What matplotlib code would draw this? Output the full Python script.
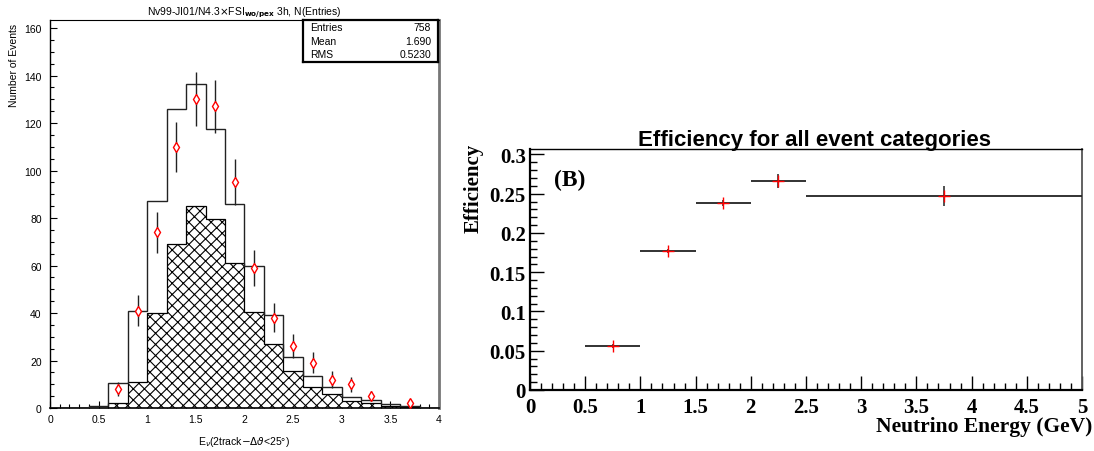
import numpy as np
import matplotlib
matplotlib.use("Agg")
import matplotlib.pyplot as plt
from matplotlib.ticker import MultipleLocator, FixedLocator

# ---------------- data: left panel ----------------
bin_edges = [0.0, 0.2, 0.4, 0.6, 0.8, 1.0, 1.2, 1.4, 1.6, 1.8, 2.0,
             2.2, 2.4, 2.6, 2.8, 3.0, 3.2, 3.4, 3.6, 3.8, 4.0]
mc_total = [0, 0, 0.7, 10.5, 41, 87, 126, 136.5, 117.5, 86, 60,
            39, 21.5, 13.5, 9, 4.8, 3.3, 1.8, 0.8, 0]
mc_hatched = [0, 0, 0, 2, 11, 40, 69, 85, 79.5, 61, 40.5,
              27, 15.5, 9, 6, 2.8, 2, 1, 0.5, 0]
data_x = [0.7, 0.9, 1.1, 1.3, 1.5, 1.7, 1.9, 2.1, 2.3, 2.5, 2.7, 2.9, 3.1, 3.3, 3.7]
data_y = [8, 41, 74, 110, 130, 127, 95, 59, 38, 26, 19, 12, 10, 5, 2]
data_err = [2.8, 6.4, 8.6, 10.5, 11.4, 11.3, 9.7, 7.7, 6.2, 5.1, 4.4, 3.5, 3.2, 2.2, 1.4]
left_xticks = [0, 0.5, 1, 1.5, 2, 2.5, 3, 3.5, 4]
left_xticklabels = ["0", "0.5", "1", "1.5", "2", "2.5", "3", "3.5", "4"]
left_yticks = [0, 20, 40, 60, 80, 100, 120, 140, 160]
stats_labels = ["Entries", "Mean", "RMS"]
stats_values = ["758", "1.690", "0.5230"]
left_title = r"Nv99-JI01/N4.3$\times$FSI$_{\mathbf{wo/pex}}$ 3h, N(Entries)"
left_xlabel = r"E$_{\nu}$(2track$-\Delta\vartheta$<25°)"
left_ylabel = "Number of Events"

# ---------------- data: right panel ----------------
eff_lo = [0.5, 1.0, 1.5, 2.0, 2.5]
eff_hi = [1.0, 1.5, 2.0, 2.5, 5.0]
eff_x = [0.75, 1.25, 1.75, 2.25, 3.75]
eff_y = [0.056, 0.177, 0.238, 0.266, 0.247]
eff_err = [0.003, 0.003, 0.004, 0.009, 0.013]
right_xticks = [0, 0.5, 1, 1.5, 2, 2.5, 3, 3.5, 4, 4.5, 5]
right_xticklabels = ["0", "0.5", "1", "1.5", "2", "2.5", "3", "3.5", "4", "4.5", "5"]
right_yticks = [0, 0.05, 0.1, 0.15, 0.2, 0.25, 0.3]
right_yticklabels = ["0", "0.05", "0.1", "0.15", "0.2", "0.25", "0.3"]
right_title = "Efficiency for all event categories"
right_xlabel = "Neutrino Energy (GeV)"
right_ylabel = "Efficiency"
panel_tag = "(B)"

W, H = 1094, 452
fig = plt.figure(figsize=(W / 100, H / 100), dpi=100)
plt.rcParams['hatch.linewidth'] = 0.8


def rect(l, t, r, b):
    return [l / W, 1 - b / H, (r - l) / W, (b - t) / H]


# ================= left panel =================
sans = ['Liberation Sans', 'DejaVu Sans']
axL = fig.add_axes(rect(50, 21, 439, 409))
axL.stairs(mc_hatched, bin_edges, fill=True, hatch='xxx', facecolor='white',
           edgecolor='black', linewidth=0, zorder=2)
axL.stairs(mc_hatched, bin_edges, color='black', linewidth=0.9, zorder=3)
axL.stairs(mc_total, bin_edges, color='#222222', linewidth=1.0, zorder=3)
axL.errorbar(data_x, data_y, yerr=data_err, fmt='none', ecolor='#222222',
             elinewidth=1.0, capsize=0, zorder=4)
axL.plot(data_x, data_y, linestyle='none', marker='d', markersize=5.5,
         markerfacecolor='white', markeredgecolor='red', markeredgewidth=1.0, zorder=5)
axL.set_xlim(0, 4)
axL.set_ylim(0, 163.4)
axL.set_xticks(left_xticks)
axL.set_xticklabels(left_xticklabels)
axL.set_yticks(left_yticks)
axL.xaxis.set_minor_locator(MultipleLocator(0.1))
axL.yaxis.set_minor_locator(MultipleLocator(5))
axL.tick_params(which='both', direction='in', top=False, right=False,
                labelsize=7.5, width=0.8, color='black')
axL.tick_params(which='major', length=5)
axL.tick_params(which='minor', length=3)
axL.tick_params(axis='y', pad=6)
axL.tick_params(axis='x', pad=4)
for lab in axL.get_xticklabels() + axL.get_yticklabels():
    lab.set_family(sans)
axL.spines['left'].set_linewidth(1.0)
axL.spines['bottom'].set_linewidth(1.2)
axL.spines['top'].set_linewidth(0.8)
axL.spines['right'].set_linewidth(2.0)
axL.spines['right'].set_color('#777777')

fig.text(244 / W, 1 - 13 / H, left_title, ha='center', va='center',
         fontsize=7.5, family=sans)
fig.text(244 / W, 1 - 442 / H, left_xlabel, ha='center', va='center',
         fontsize=7.5, family=sans)
fig.text(14 / W, 1 - 65 / H, left_ylabel, ha='center', va='center',
         rotation=90, fontsize=7.5, family=sans)

# stats box
axS = fig.add_axes(rect(303, 21, 438, 63), zorder=10)
axS.set_xticks([])
axS.set_yticks([])
axS.set_xlim(0, 1)
axS.set_ylim(0, 1)
for sp in axS.spines.values():
    sp.set_linewidth(1.6)
    sp.set_color('black')
for lab, val, yy in zip(stats_labels, stats_values, [0.83, 0.5, 0.18]):
    axS.text(0.05, yy, lab, ha='left', va='center', fontsize=7.5, family=sans)
    axS.text(0.95, yy, val, ha='right', va='center', fontsize=7.5, family=sans)

# ================= right panel =================
serif = ['Liberation Serif', 'DejaVu Serif']
axR = fig.add_axes(rect(530, 150, 1082, 391))
axR.hlines(eff_y, eff_lo, eff_hi, colors='#222222', linewidth=1.3, zorder=3)
axR.errorbar(eff_x, eff_y, yerr=eff_err, fmt='none', ecolor='#333333',
             elinewidth=1.2, capsize=0, zorder=4)
axR.plot(eff_x, eff_y, linestyle='none', marker='+', markersize=8,
         markeredgecolor='red', markeredgewidth=1.0, zorder=5)
axR.set_xlim(0, 5)
axR.set_ylim(0, 0.307)
axR.set_xticks(right_xticks)
axR.set_xticklabels(right_xticklabels)
axR.set_yticks(right_yticks)
axR.set_yticklabels(right_yticklabels)
axR.xaxis.set_minor_locator(MultipleLocator(0.1))
axR.yaxis.set_minor_locator(MultipleLocator(0.01))
axR.tick_params(which='both', direction='in', top=False, right=False,
                labelsize=15, width=1.0, color='black')
axR.tick_params(which='major', length=10)
axR.tick_params(which='minor', length=5)
axR.tick_params(axis='x', pad=5)
axR.tick_params(axis='y', pad=3)
for lab in axR.get_xticklabels() + axR.get_yticklabels():
    lab.set_family(serif)
    lab.set_fontweight('bold')
axR.spines['left'].set_linewidth(1.6)
axR.spines['bottom'].set_linewidth(1.6)
axR.spines['top'].set_linewidth(1.0)
axR.spines['right'].set_linewidth(1.3)
axR.spines['right'].set_color('#555555')

fig.text(814 / W, 1 - 146 / H, right_title, ha='center', va='baseline',
         fontsize=16, fontweight='bold', family=sans)
fig.text(1092 / W, 1 - 427 / H, right_xlabel, ha='right', va='center',
         fontsize=15.5, fontweight='bold', family=serif)
fig.text(474 / W, 1 - 188 / H, right_ylabel, ha='center', va='center',
         rotation=90, fontsize=15, fontweight='bold', family=serif)
fig.text(570 / W, 1 - 180 / H, panel_tag, ha='center', va='center',
         fontsize=17, fontweight='bold', family=serif)

fig.savefig("out.png", dpi=100)
